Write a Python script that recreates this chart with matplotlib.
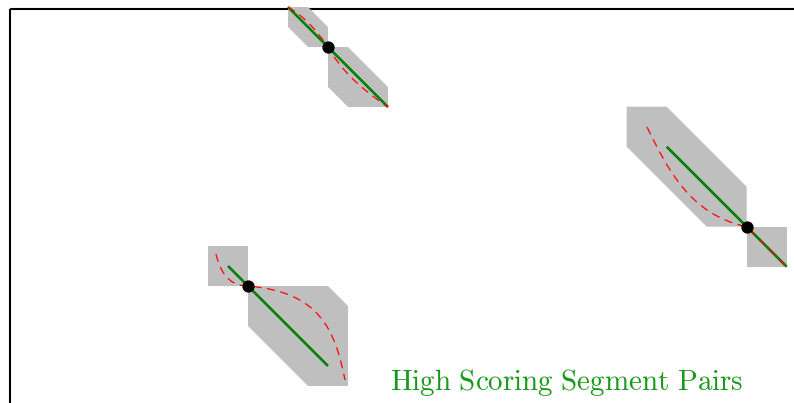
import matplotlib
matplotlib.use("Agg")
import matplotlib.pyplot as plt
from matplotlib.patches import Polygon, PathPatch, Rectangle
from matplotlib.path import Path

plt.rcParams['mathtext.fontset'] = 'cm'

# ---- data (pixel coordinates on the canvas, unit = 20 px grid) ----
UNIT = 20
anchors = [(248, 286), (328, 47), (746.7, 226.7)]          # black dots
# gray band polygons, relative to anchor, in grid units (y up)
bands = [
    [[(0, 0), (0, 2), (-2, 2), (-2, 0)],
     [(0, 0), (4, 0), (5, -1), (5, -5), (3, -5), (0, -2)]],
    [[(-2, 2), (-1, 2), (0, 1), (0, 0), (-1, 0), (-2, 1)],
     [(0, 0), (1, 0), (3, -2), (3, -3), (1, -3), (0, -2)]],
    [[(-6, 6), (-4, 6), (0, 2), (0, 0), (-2, 0), (-6, 4)],
     [(0, 0), (2, 0), (2, -2), (0, -2)]],
]
# green HSP diagonals (start, end) in grid units relative to anchor
hsp_start = [(-1, 1), (-2, 2), (-4, 4)]
hsp_end = [(4, -4), (3, -3), (2, -2)]
# red alignment paths: cubic Bezier control points (pixels)
align_curves = [
    [(216, 254), (222, 280), (235, 286), (248, 286),
     (320, 292), (335, 330), (345, 380)],
    [(288, 7), (305, 17), (318, 32), (328, 47),
     (338, 65), (355, 85), (388, 107)],
    [(647, 127), (667, 168), (690, 215), (746.7, 226.7),
     (760, 240), (772, 252), (786.7, 266.7)],
]
label = "High Scoring Segment Pairs"

W, H = 794, 403
fig = plt.figure(figsize=(W / 100, H / 100), dpi=100)
ax = fig.add_axes([0, 0, 1, 1])
ax.set_xlim(0, W)
ax.set_ylim(H, 0)
ax.axis('off')

# frame (extends beyond canvas on right/bottom)
ax.add_patch(Rectangle((10, 9.3), 900, 500, fill=False, edgecolor='black',
                       linewidth=1.5, zorder=1))

def to_px(anchor, p):
    return (anchor[0] + p[0] * UNIT, anchor[1] - p[1] * UNIT)

for anc, polys in zip(anchors, bands):
    for poly in polys:
        ax.add_patch(Polygon([to_px(anc, p) for p in poly], closed=True,
                             facecolor='#bfbfbf', edgecolor='none', zorder=2))

for anc, s, e in zip(anchors, hsp_start, hsp_end):
    p0, p1 = to_px(anc, s), to_px(anc, e)
    ax.plot([p0[0], p1[0]], [p0[1], p1[1]], color='#008000', linewidth=1.9,
            solid_capstyle='butt', zorder=3)

for pts in align_curves:
    codes = [Path.MOVETO] + [Path.CURVE4] * (len(pts) - 1)
    ax.add_patch(PathPatch(Path(pts, codes), facecolor='none', edgecolor='red',
                           linewidth=0.9, linestyle=(0, (6.5, 4.5)), zorder=4))

ax.scatter([a[0] for a in anchors], [a[1] for a in anchors], s=78,
           color='black', zorder=5, linewidths=0)

ax.text(390, 390, r'$\mathrm{' + label.replace(' ', r'\ ') + '}$',
        color='#1a9a1a', fontsize=20.9, ha='left', va='baseline', zorder=6)

fig.savefig('out.png', dpi=100)
